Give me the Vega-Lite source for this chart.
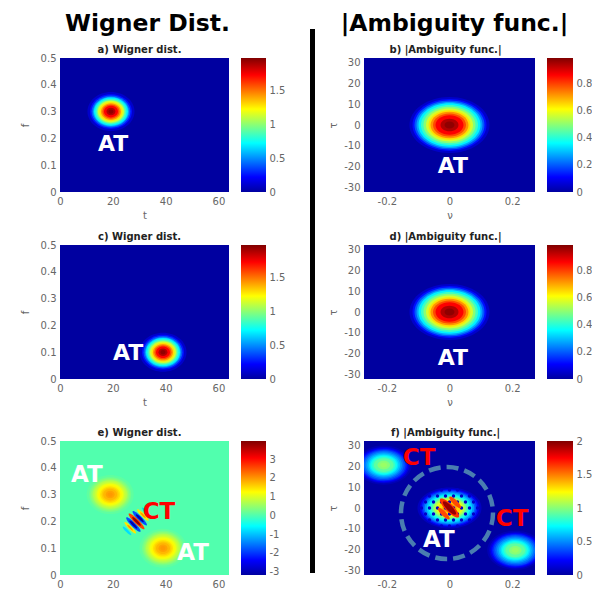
{
  "$schema": "https://vega.github.io/schema/vega-lite/v6.json",
  "background": "white",
  "padding": {"left": 20, "top": 12, "right": 0, "bottom": 0},
  "bounds": "flush",
  "spacing": 250,
  "resolve": {"scale": {"color": "independent", "size": "independent"}},
  "config": {
    "view": {"stroke": null},
    "font": "DejaVu Sans",
    "axis": {"labelFont": "DejaVu Sans", "labelFontSize": 10, "labelColor": "#666", "ticks": false, "domain": false, "grid": false, "titleFont": "DejaVu Sans", "titleFontSize": 10, "titleFontWeight": "normal", "titleColor": "#666", "labelPadding": 4, "labelOverlap": false, "format": ".2~f", "tickCount": 20},
    "title": {"font": "DejaVu Sans", "fontSize": 10, "fontWeight": "bold", "color": "#222", "offset": 3}
  },
  "hconcat": [
    {
      "bounds": "flush",
      "spacing": 10,
      "resolve": {"scale": {"color": "independent", "size": "independent"}},
      "vconcat": [
        {
          "width": 169, "height": 19,
          "data": {"values": [{"label": "Wigner Dist."}]},
          "mark": {"type": "text", "font": "DejaVu Sans", "fontWeight": "bold", "fontSize": 23.5, "color": "black", "baseline": "alphabetic", "dx": 3, "dy": -7.5},
          "encoding": {"text": {"field": "label"}}
        },
        {
          "bounds": "flush",
          "spacing": 383,
          "resolve": {"scale": {"color": "independent", "size": "independent"}},
          "vconcat": [
            {
              "bounds": "flush",
              "spacing": 187,
              "resolve": {"scale": {"color": "independent", "size": "independent"}},
              "vconcat": [
                {
                  "bounds": "flush", "spacing": 12,
                  "resolve": {"scale": {"color": "independent", "size": "independent"}},
                  "hconcat": [
                    {
                      "width": 169, "height": 134,
                      "title": {"text": "a) Wigner dist.", "dx": -5, "offset": -2},
                      "layer": [
                        {
                          "data": {"values": [{"v": 0}]},
                          "mark": {"type": "rect"},
                          "encoding": {"color": {"field": "v", "type": "quantitative", "legend": null, "scale": {"domain": [0, 0.221, 0.726, 1.232, 1.737, 1.99], "range": ["#0000A0", "#0000FF", "#00FFFF", "#FFFF00", "#FF0000", "#800000"], "interpolate": "rgb"}}}
                        },
                        {
                          "data": {"values": [
                            {"t": 19.3, "f": 0.3, "r": 8.90, "v": 0.10}, {"t": 19.3, "f": 0.3, "r": 7.95, "v": 0.25}, {"t": 19.3, "f": 0.3, "r": 7.38, "v": 0.40}, {"t": 19.3, "f": 0.3, "r": 6.82, "v": 0.55}, {"t": 19.3, "f": 0.3, "r": 6.44, "v": 0.70}, {"t": 19.3, "f": 0.3, "r": 5.87, "v": 0.85}, {"t": 19.3, "f": 0.3, "r": 5.30, "v": 0.99}, {"t": 19.3, "f": 0.3, "r": 4.92, "v": 1.14}, {"t": 19.3, "f": 0.3, "r": 4.36, "v": 1.29}, {"t": 19.3, "f": 0.3, "r": 3.79, "v": 1.44}, {"t": 19.3, "f": 0.3, "r": 3.22, "v": 1.59}, {"t": 19.3, "f": 0.3, "r": 2.65, "v": 1.74}, {"t": 19.3, "f": 0.3, "r": 1.70, "v": 1.89}, {"t": 19.3, "f": 0.3, "r": 0.95, "v": 1.96}
                          ]},
                          "mark": {"type": "point", "shape": "M1,0C1,0.4584,0.5523,0.83,0,0.83C-0.5523,0.83,-1,0.4584,-1,0C-1,-0.4584,-0.5523,-0.83,0,-0.83C0.5523,-0.83,1,-0.4584,1,0Z", "filled": true, "opacity": 1, "strokeWidth": 0, "clip": true},
                          "encoding": {
                            "x": {"field": "t", "type": "quantitative", "scale": {"domain": [0, 64], "nice": false, "zero": false}, "axis": {"values": [0, 20, 40, 60], "title": "t", "labelFlush": false, "labelOverlap": false, "tickCount": 20}},
                            "y": {"field": "f", "type": "quantitative", "scale": {"domain": [0, 0.5], "nice": false, "zero": false}, "axis": {"values": [0, 0.1, 0.2, 0.3, 0.4, 0.5], "title": "f", "titlePadding": 10, "labelOverlap": false, "tickCount": 20}},
                            "size": {"field": "r", "type": "quantitative", "legend": null, "scale": {"type": "pow", "exponent": 2, "domain": [0, 16], "range": [0, 7140], "zero": true}},
                            "color": {"field": "v", "type": "quantitative", "legend": null}
                          }
                        },
                        {
                          "data": {"values": [{"t": 20.1, "f": 0.179, "label": "AT"}]},
                          "mark": {"type": "text", "color": "white", "font": "DejaVu Sans", "fontWeight": "bold", "fontSize": 22},
                          "encoding": {"x": {"field": "t", "type": "quantitative"}, "y": {"field": "f", "type": "quantitative"}, "text": {"field": "label"}}
                        }
                      ]
                    },
                    {
                      "width": 25, "height": 134,
                      "data": {"values": [{"lo": 0, "hi": 1.99}]},
                      "mark": {"type": "rect", "color": {"gradient": "linear", "x1": 0, "y1": 1, "x2": 0, "y2": 0, "stops": [{"offset": 0, "color": "#0000A0"}, {"offset": 0.111, "color": "#0000FF"}, {"offset": 0.365, "color": "#00FFFF"}, {"offset": 0.619, "color": "#FFFF00"}, {"offset": 0.873, "color": "#FF0000"}, {"offset": 1, "color": "#800000"}]}},
                      "encoding": {
                        "y": {"field": "lo", "type": "quantitative", "scale": {"domain": [0, 1.99], "nice": false, "zero": false}, "axis": {"orient": "right", "values": [0, 0.5, 1, 1.5], "title": null, "labelPadding": 3, "labelOverlap": false, "tickCount": 20}},
                        "y2": {"field": "hi"}
                      }
                    }
                  ]
                },
                {
                  "bounds": "flush", "spacing": 12,
                  "resolve": {"scale": {"color": "independent", "size": "independent"}},
                  "hconcat": [
                    {
                      "width": 169, "height": 134,
                      "title": {"text": "c) Wigner dist.", "dx": -5, "offset": -2},
                      "layer": [
                        {
                          "data": {"values": [{"v": 0}]},
                          "mark": {"type": "rect"},
                          "encoding": {"color": {"field": "v", "type": "quantitative", "legend": null, "scale": {"domain": [0, 0.221, 0.726, 1.232, 1.737, 1.99], "range": ["#0000A0", "#0000FF", "#00FFFF", "#FFFF00", "#FF0000", "#800000"], "interpolate": "rgb"}}}
                        },
                        {
                          "data": {"values": [
                            {"t": 39, "f": 0.1, "r": 8.90, "v": 0.10}, {"t": 39, "f": 0.1, "r": 7.95, "v": 0.25}, {"t": 39, "f": 0.1, "r": 7.38, "v": 0.40}, {"t": 39, "f": 0.1, "r": 6.82, "v": 0.55}, {"t": 39, "f": 0.1, "r": 6.44, "v": 0.70}, {"t": 39, "f": 0.1, "r": 5.87, "v": 0.85}, {"t": 39, "f": 0.1, "r": 5.30, "v": 0.99}, {"t": 39, "f": 0.1, "r": 4.92, "v": 1.14}, {"t": 39, "f": 0.1, "r": 4.36, "v": 1.29}, {"t": 39, "f": 0.1, "r": 3.79, "v": 1.44}, {"t": 39, "f": 0.1, "r": 3.22, "v": 1.59}, {"t": 39, "f": 0.1, "r": 2.65, "v": 1.74}, {"t": 39, "f": 0.1, "r": 1.70, "v": 1.89}, {"t": 39, "f": 0.1, "r": 0.95, "v": 1.96}
                          ]},
                          "mark": {"type": "point", "shape": "M1,0C1,0.4584,0.5523,0.83,0,0.83C-0.5523,0.83,-1,0.4584,-1,0C-1,-0.4584,-0.5523,-0.83,0,-0.83C0.5523,-0.83,1,-0.4584,1,0Z", "filled": true, "opacity": 1, "strokeWidth": 0, "clip": true},
                          "encoding": {
                            "x": {"field": "t", "type": "quantitative", "scale": {"domain": [0, 64], "nice": false, "zero": false}, "axis": {"values": [0, 20, 40, 60], "title": "t", "labelFlush": false, "labelOverlap": false, "tickCount": 20}},
                            "y": {"field": "f", "type": "quantitative", "scale": {"domain": [0, 0.5], "nice": false, "zero": false}, "axis": {"values": [0, 0.1, 0.2, 0.3, 0.4, 0.5], "title": "f", "titlePadding": 10, "labelOverlap": false, "tickCount": 20}},
                            "size": {"field": "r", "type": "quantitative", "legend": null, "scale": {"type": "pow", "exponent": 2, "domain": [0, 16], "range": [0, 7140], "zero": true}},
                            "color": {"field": "v", "type": "quantitative", "legend": null}
                          }
                        },
                        {
                          "data": {"values": [{"t": 25.8, "f": 0.097, "label": "AT"}]},
                          "mark": {"type": "text", "color": "white", "font": "DejaVu Sans", "fontWeight": "bold", "fontSize": 22},
                          "encoding": {"x": {"field": "t", "type": "quantitative"}, "y": {"field": "f", "type": "quantitative"}, "text": {"field": "label"}}
                        }
                      ]
                    },
                    {
                      "width": 25, "height": 134,
                      "data": {"values": [{"lo": 0, "hi": 1.99}]},
                      "mark": {"type": "rect", "color": {"gradient": "linear", "x1": 0, "y1": 1, "x2": 0, "y2": 0, "stops": [{"offset": 0, "color": "#0000A0"}, {"offset": 0.111, "color": "#0000FF"}, {"offset": 0.365, "color": "#00FFFF"}, {"offset": 0.619, "color": "#FFFF00"}, {"offset": 0.873, "color": "#FF0000"}, {"offset": 1, "color": "#800000"}]}},
                      "encoding": {
                        "y": {"field": "lo", "type": "quantitative", "scale": {"domain": [0, 1.99], "nice": false, "zero": false}, "axis": {"orient": "right", "values": [0, 0.5, 1, 1.5], "title": null, "labelPadding": 3, "labelOverlap": false, "tickCount": 20}},
                        "y2": {"field": "hi"}
                      }
                    }
                  ]
                }
              ]
            },
            {
              "bounds": "flush", "spacing": 12,
              "resolve": {"scale": {"color": "independent", "size": "independent"}},
              "hconcat": [
                {
                  "width": 169, "height": 134,
                  "title": {"text": "e) Wigner dist.", "dx": -5, "offset": -2},
                  "layer": [
                    {
                      "data": {"values": [{"v": 0}]},
                      "mark": {"type": "rect"},
                      "encoding": {"color": {"field": "v", "type": "quantitative", "legend": null, "scale": {"domain": [-3.18, -2.387, -0.574, 1.24, 3.053, 3.96], "range": ["#0000A0", "#0000FF", "#00FFFF", "#FFFF00", "#FF0000", "#800000"], "interpolate": "rgb"}}}
                    },
                    {
                      "data": {"values": [
                        {"t": 19, "f": 0.3, "r": 8.90, "v": 0.10}, {"t": 19, "f": 0.3, "r": 7.95, "v": 0.25}, {"t": 19, "f": 0.3, "r": 7.38, "v": 0.40}, {"t": 19, "f": 0.3, "r": 6.82, "v": 0.55}, {"t": 19, "f": 0.3, "r": 6.44, "v": 0.70}, {"t": 19, "f": 0.3, "r": 5.87, "v": 0.85}, {"t": 19, "f": 0.3, "r": 5.30, "v": 1.00}, {"t": 19, "f": 0.3, "r": 4.92, "v": 1.15}, {"t": 19, "f": 0.3, "r": 4.36, "v": 1.30}, {"t": 19, "f": 0.3, "r": 3.79, "v": 1.45}, {"t": 19, "f": 0.3, "r": 3.22, "v": 1.60}, {"t": 19, "f": 0.3, "r": 2.65, "v": 1.75}, {"t": 19, "f": 0.3, "r": 1.70, "v": 1.90}, {"t": 19, "f": 0.3, "r": 0.95, "v": 1.97},
                        {"t": 39, "f": 0.1, "r": 8.90, "v": 0.10}, {"t": 39, "f": 0.1, "r": 7.95, "v": 0.25}, {"t": 39, "f": 0.1, "r": 7.38, "v": 0.40}, {"t": 39, "f": 0.1, "r": 6.82, "v": 0.55}, {"t": 39, "f": 0.1, "r": 6.44, "v": 0.70}, {"t": 39, "f": 0.1, "r": 5.87, "v": 0.85}, {"t": 39, "f": 0.1, "r": 5.30, "v": 1.00}, {"t": 39, "f": 0.1, "r": 4.92, "v": 1.15}, {"t": 39, "f": 0.1, "r": 4.36, "v": 1.30}, {"t": 39, "f": 0.1, "r": 3.79, "v": 1.45}, {"t": 39, "f": 0.1, "r": 3.22, "v": 1.60}, {"t": 39, "f": 0.1, "r": 2.65, "v": 1.75}, {"t": 39, "f": 0.1, "r": 1.70, "v": 1.90}, {"t": 39, "f": 0.1, "r": 0.95, "v": 1.97}
                      ]},
                      "mark": {"type": "point", "shape": "M1,0C1,0.4584,0.5523,0.83,0,0.83C-0.5523,0.83,-1,0.4584,-1,0C-1,-0.4584,-0.5523,-0.83,0,-0.83C0.5523,-0.83,1,-0.4584,1,0Z", "filled": true, "opacity": 1, "strokeWidth": 0, "clip": true},
                      "encoding": {
                        "x": {"field": "t", "type": "quantitative", "scale": {"domain": [0, 64], "nice": false, "zero": false}, "axis": {"values": [0, 20, 40, 60], "title": null, "labelFlush": false, "labelOverlap": false, "tickCount": 20}},
                        "y": {"field": "f", "type": "quantitative", "scale": {"domain": [0, 0.5], "nice": false, "zero": false}, "axis": {"values": [0, 0.1, 0.2, 0.3, 0.4, 0.5], "title": "f", "titlePadding": 10, "labelOverlap": false, "tickCount": 20}},
                        "size": {"field": "r", "type": "quantitative", "legend": null, "scale": {"type": "pow", "exponent": 2, "domain": [0, 16], "range": [0, 7140], "zero": true}},
                        "color": {"field": "v", "type": "quantitative", "legend": null}
                      }
                    },
                    {
                      "data": {"values": [
                        {"t": 25.39, "f": 0.1644, "r": 2.27, "v": -0.8}, {"t": 32.62, "f": 0.2356, "r": 2.27, "v": -0.8},
                        {"t": 26.59, "f": 0.1763, "r": 3.03, "v": 1.4}, {"t": 31.41, "f": 0.2237, "r": 3.03, "v": 1.4},
                        {"t": 27.8, "f": 0.1881, "r": 3.79, "v": -1.8}, {"t": 30.21, "f": 0.2119, "r": 3.79, "v": -1.8},
                        {"t": 29, "f": 0.2, "r": 4.17, "v": 2.6},
                        {"t": 26.59, "f": 0.1763, "r": 1.51, "v": 2.0}, {"t": 31.41, "f": 0.2237, "r": 1.51, "v": 2.0},
                        {"t": 27.8, "f": 0.1881, "r": 2.08, "v": -3.1}, {"t": 30.21, "f": 0.2119, "r": 2.08, "v": -3.1},
                        {"t": 29, "f": 0.2, "r": 2.27, "v": 3.8}
                      ]},
                      "mark": {"type": "point", "shape": "M1,0C1,0.1215,0.5523,0.22,0,0.22C-0.5523,0.22,-1,0.1215,-1,0C-1,-0.1215,-0.5523,-0.22,0,-0.22C0.5523,-0.22,1,-0.1215,1,0Z", "angle": 45, "filled": true, "opacity": 1, "strokeWidth": 0, "clip": true},
                      "encoding": {
                        "x": {"field": "t", "type": "quantitative"},
                        "y": {"field": "f", "type": "quantitative"},
                        "size": {"field": "r", "type": "quantitative", "legend": null},
                        "color": {"field": "v", "type": "quantitative", "legend": null}
                      }
                    },
                    {
                      "data": {"values": [{"t": 10.2, "f": 0.373, "label": "AT"}, {"t": 50.4, "f": 0.082, "label": "AT"}]},
                      "mark": {"type": "text", "color": "white", "font": "DejaVu Sans", "fontWeight": "bold", "fontSize": 23},
                      "encoding": {"x": {"field": "t", "type": "quantitative"}, "y": {"field": "f", "type": "quantitative"}, "text": {"field": "label"}}
                    },
                    {
                      "data": {"values": [{"t": 37.5, "f": 0.235, "label": "CT"}]},
                      "mark": {"type": "text", "color": "#FF0000", "font": "DejaVu Sans", "fontWeight": "bold", "fontSize": 23},
                      "encoding": {"x": {"field": "t", "type": "quantitative"}, "y": {"field": "f", "type": "quantitative"}, "text": {"field": "label"}}
                    }
                  ]
                },
                {
                  "width": 25, "height": 134,
                  "data": {"values": [{"lo": -3.18, "hi": 3.96}]},
                  "mark": {"type": "rect", "color": {"gradient": "linear", "x1": 0, "y1": 1, "x2": 0, "y2": 0, "stops": [{"offset": 0, "color": "#0000A0"}, {"offset": 0.111, "color": "#0000FF"}, {"offset": 0.365, "color": "#00FFFF"}, {"offset": 0.619, "color": "#FFFF00"}, {"offset": 0.873, "color": "#FF0000"}, {"offset": 1, "color": "#800000"}]}},
                  "encoding": {
                    "y": {"field": "lo", "type": "quantitative", "scale": {"domain": [-3.18, 3.96], "nice": false, "zero": false}, "axis": {"orient": "right", "values": [-3, -2, -1, 0, 1, 2, 3], "title": null, "labelPadding": 3, "labelOverlap": false, "tickCount": 20, "labelExpr": "replace(datum.label, '−', '-')"}},
                    "y2": {"field": "hi"}
                  }
                }
              ]
            }
          ]
        }
      ]
    },
    {
      "bounds": "flush",
      "spacing": 49,
      "resolve": {"scale": {"color": "independent", "size": "independent"}},
      "hconcat": [
        {
          "width": 5, "height": 544,
          "data": {"values": [{"v": 1}]},
          "mark": {"type": "rect", "color": "black"},
          "encoding": {}
        },
        {
          "bounds": "flush",
          "spacing": 10,
          "resolve": {"scale": {"color": "independent", "size": "independent"}},
          "vconcat": [
            {
              "width": 171, "height": 19,
              "data": {"values": [{"label": "|Ambiguity func.|"}]},
              "mark": {"type": "text", "font": "DejaVu Sans", "fontWeight": "bold", "fontSize": 23.5, "color": "black", "baseline": "alphabetic", "dx": 5, "dy": -7.5},
              "encoding": {"text": {"field": "label"}}
            },
            {
              "bounds": "flush",
              "spacing": 383,
              "resolve": {"scale": {"color": "independent", "size": "independent"}},
              "vconcat": [
                {
                  "bounds": "flush",
                  "spacing": 187,
                  "resolve": {"scale": {"color": "independent", "size": "independent"}},
                  "vconcat": [
                    {
                      "bounds": "flush", "spacing": 12,
                      "resolve": {"scale": {"color": "independent", "size": "independent"}},
                      "hconcat": [
                        {
                          "width": 171, "height": 134,
                          "title": {"text": "b) |Ambiguity func.|", "dx": -4, "offset": 2},
                          "layer": [
                            {
                              "data": {"values": [{"v": 0}]},
                              "mark": {"type": "rect"},
                              "encoding": {"color": {"field": "v", "type": "quantitative", "legend": null, "scale": {"domain": [0, 0.11, 0.361, 0.613, 0.864, 0.99], "range": ["#0000A0", "#0000FF", "#00FFFF", "#FFFF00", "#FF0000", "#800000"], "interpolate": "rgb"}}}
                            },
                            {
                              "data": {"values": [
                                {"nu": 0, "tau": 0, "r": 0.1277, "v": 0.05}, {"nu": 0, "tau": 0, "r": 0.1181, "v": 0.124}, {"nu": 0, "tau": 0, "r": 0.1117, "v": 0.198}, {"nu": 0, "tau": 0, "r": 0.1054, "v": 0.272}, {"nu": 0, "tau": 0, "r": 0.099, "v": 0.347}, {"nu": 0, "tau": 0, "r": 0.091, "v": 0.421}, {"nu": 0, "tau": 0, "r": 0.083, "v": 0.495}, {"nu": 0, "tau": 0, "r": 0.075, "v": 0.569}, {"nu": 0, "tau": 0, "r": 0.067, "v": 0.644}, {"nu": 0, "tau": 0, "r": 0.0607, "v": 0.718}, {"nu": 0, "tau": 0, "r": 0.0527, "v": 0.792}, {"nu": 0, "tau": 0, "r": 0.0447, "v": 0.866}, {"nu": 0, "tau": 0, "r": 0.0287, "v": 0.941}, {"nu": 0, "tau": 0, "r": 0.016, "v": 0.975}
                              ]},
                              "mark": {"type": "point", "shape": "M1,0C1,0.3866,0.5523,0.7,0,0.7C-0.5523,0.7,-1,0.3866,-1,0C-1,-0.3866,-0.5523,-0.7,0,-0.7C0.5523,-0.7,1,-0.3866,1,0Z", "filled": true, "opacity": 1, "strokeWidth": 0, "clip": true},
                              "encoding": {
                                "x": {"field": "nu", "type": "quantitative", "scale": {"domain": [-0.273, 0.273], "nice": false, "zero": false}, "axis": {"values": [-0.2, 0, 0.2], "title": "ν", "labelFlush": false, "labelOverlap": false, "tickCount": 20, "labelExpr": "replace(datum.label, '−', '-')"}},
                                "y": {"field": "tau", "type": "quantitative", "scale": {"domain": [-32, 32], "nice": false, "zero": false}, "axis": {"values": [-30, -20, -10, 0, 10, 20, 30], "title": "τ", "titlePadding": 5, "labelOverlap": false, "tickCount": 20, "labelExpr": "replace(datum.label, '−', '-')"}},
                                "size": {"field": "r", "type": "quantitative", "legend": null, "scale": {"type": "pow", "exponent": 2, "domain": [0, 0.3], "range": [0, 35314], "zero": true}},
                                "color": {"field": "v", "type": "quantitative", "legend": null}
                              }
                            },
                            {
                              "data": {"values": [{"nu": 0.011, "tau": -19.6, "label": "AT"}]},
                              "mark": {"type": "text", "color": "white", "font": "DejaVu Sans", "fontWeight": "bold", "fontSize": 22},
                              "encoding": {"x": {"field": "nu", "type": "quantitative"}, "y": {"field": "tau", "type": "quantitative"}, "text": {"field": "label"}}
                            }
                          ]
                        },
                        {
                          "width": 26, "height": 134,
                          "data": {"values": [{"lo": 0, "hi": 0.99}]},
                          "mark": {"type": "rect", "color": {"gradient": "linear", "x1": 0, "y1": 1, "x2": 0, "y2": 0, "stops": [{"offset": 0, "color": "#0000A0"}, {"offset": 0.111, "color": "#0000FF"}, {"offset": 0.365, "color": "#00FFFF"}, {"offset": 0.619, "color": "#FFFF00"}, {"offset": 0.873, "color": "#FF0000"}, {"offset": 1, "color": "#800000"}]}},
                          "encoding": {
                            "y": {"field": "lo", "type": "quantitative", "scale": {"domain": [0, 0.99], "nice": false, "zero": false}, "axis": {"orient": "right", "values": [0, 0.2, 0.4, 0.6, 0.8], "title": null, "labelPadding": 3, "labelOverlap": false, "tickCount": 20}},
                            "y2": {"field": "hi"}
                          }
                        }
                      ]
                    },
                    {
                      "bounds": "flush", "spacing": 12,
                      "resolve": {"scale": {"color": "independent", "size": "independent"}},
                      "hconcat": [
                        {
                          "width": 171, "height": 134,
                          "title": {"text": "d) |Ambiguity func.|", "dx": -4, "offset": 2},
                          "layer": [
                            {
                              "data": {"values": [{"v": 0}]},
                              "mark": {"type": "rect"},
                              "encoding": {"color": {"field": "v", "type": "quantitative", "legend": null, "scale": {"domain": [0, 0.11, 0.361, 0.613, 0.864, 0.99], "range": ["#0000A0", "#0000FF", "#00FFFF", "#FFFF00", "#FF0000", "#800000"], "interpolate": "rgb"}}}
                            },
                            {
                              "data": {"values": [
                                {"nu": 0, "tau": 0, "r": 0.1277, "v": 0.05}, {"nu": 0, "tau": 0, "r": 0.1181, "v": 0.124}, {"nu": 0, "tau": 0, "r": 0.1117, "v": 0.198}, {"nu": 0, "tau": 0, "r": 0.1054, "v": 0.272}, {"nu": 0, "tau": 0, "r": 0.099, "v": 0.347}, {"nu": 0, "tau": 0, "r": 0.091, "v": 0.421}, {"nu": 0, "tau": 0, "r": 0.083, "v": 0.495}, {"nu": 0, "tau": 0, "r": 0.075, "v": 0.569}, {"nu": 0, "tau": 0, "r": 0.067, "v": 0.644}, {"nu": 0, "tau": 0, "r": 0.0607, "v": 0.718}, {"nu": 0, "tau": 0, "r": 0.0527, "v": 0.792}, {"nu": 0, "tau": 0, "r": 0.0447, "v": 0.866}, {"nu": 0, "tau": 0, "r": 0.0287, "v": 0.941}, {"nu": 0, "tau": 0, "r": 0.016, "v": 0.975}
                              ]},
                              "mark": {"type": "point", "shape": "M1,0C1,0.3866,0.5523,0.7,0,0.7C-0.5523,0.7,-1,0.3866,-1,0C-1,-0.3866,-0.5523,-0.7,0,-0.7C0.5523,-0.7,1,-0.3866,1,0Z", "filled": true, "opacity": 1, "strokeWidth": 0, "clip": true},
                              "encoding": {
                                "x": {"field": "nu", "type": "quantitative", "scale": {"domain": [-0.273, 0.273], "nice": false, "zero": false}, "axis": {"values": [-0.2, 0, 0.2], "title": "ν", "labelFlush": false, "labelOverlap": false, "tickCount": 20, "labelExpr": "replace(datum.label, '−', '-')"}},
                                "y": {"field": "tau", "type": "quantitative", "scale": {"domain": [-32, 32], "nice": false, "zero": false}, "axis": {"values": [-30, -20, -10, 0, 10, 20, 30], "title": "τ", "titlePadding": 5, "labelOverlap": false, "tickCount": 20, "labelExpr": "replace(datum.label, '−', '-')"}},
                                "size": {"field": "r", "type": "quantitative", "legend": null, "scale": {"type": "pow", "exponent": 2, "domain": [0, 0.3], "range": [0, 35314], "zero": true}},
                                "color": {"field": "v", "type": "quantitative", "legend": null}
                              }
                            },
                            {
                              "data": {"values": [{"nu": 0.011, "tau": -22, "label": "AT"}]},
                              "mark": {"type": "text", "color": "white", "font": "DejaVu Sans", "fontWeight": "bold", "fontSize": 22},
                              "encoding": {"x": {"field": "nu", "type": "quantitative"}, "y": {"field": "tau", "type": "quantitative"}, "text": {"field": "label"}}
                            }
                          ]
                        },
                        {
                          "width": 26, "height": 134,
                          "data": {"values": [{"lo": 0, "hi": 0.99}]},
                          "mark": {"type": "rect", "color": {"gradient": "linear", "x1": 0, "y1": 1, "x2": 0, "y2": 0, "stops": [{"offset": 0, "color": "#0000A0"}, {"offset": 0.111, "color": "#0000FF"}, {"offset": 0.365, "color": "#00FFFF"}, {"offset": 0.619, "color": "#FFFF00"}, {"offset": 0.873, "color": "#FF0000"}, {"offset": 1, "color": "#800000"}]}},
                          "encoding": {
                            "y": {"field": "lo", "type": "quantitative", "scale": {"domain": [0, 0.99], "nice": false, "zero": false}, "axis": {"orient": "right", "values": [0, 0.2, 0.4, 0.6, 0.8], "title": null, "labelPadding": 3, "labelOverlap": false, "tickCount": 20}},
                            "y2": {"field": "hi"}
                          }
                        }
                      ]
                    }
                  ]
                },
                {
                  "bounds": "flush", "spacing": 12,
                  "resolve": {"scale": {"color": "independent", "size": "independent"}},
                  "hconcat": [
                    {
                      "width": 171, "height": 134,
                      "title": {"text": "f) |Ambiguity func.|", "dx": -4, "offset": 2},
                      "layer": [
                        {
                          "data": {"values": [{"v": 0}]},
                          "mark": {"type": "rect"},
                          "encoding": {"color": {"field": "v", "type": "quantitative", "legend": null, "scale": {"domain": [0, 0.222, 0.73, 1.238, 1.746, 2], "range": ["#0000A0", "#0000FF", "#00FFFF", "#FFFF00", "#FF0000", "#800000"], "interpolate": "rgb"}}}
                        },
                        {
                          "data": {"values": [
                            {"nu": -0.21, "tau": 20.5, "r": 0.0894, "v": 0.0525}, {"nu": -0.21, "tau": 20.5, "r": 0.0827, "v": 0.131}, {"nu": -0.21, "tau": 20.5, "r": 0.0782, "v": 0.21}, {"nu": -0.21, "tau": 20.5, "r": 0.0738, "v": 0.289}, {"nu": -0.21, "tau": 20.5, "r": 0.0693, "v": 0.368}, {"nu": -0.21, "tau": 20.5, "r": 0.0637, "v": 0.446}, {"nu": -0.21, "tau": 20.5, "r": 0.0581, "v": 0.525}, {"nu": -0.21, "tau": 20.5, "r": 0.0525, "v": 0.604}, {"nu": -0.21, "tau": 20.5, "r": 0.0469, "v": 0.683}, {"nu": -0.21, "tau": 20.5, "r": 0.0425, "v": 0.761}, {"nu": -0.21, "tau": 20.5, "r": 0.0369, "v": 0.84}, {"nu": -0.21, "tau": 20.5, "r": 0.0313, "v": 0.919}, {"nu": -0.21, "tau": 20.5, "r": 0.0201, "v": 0.998}, {"nu": -0.21, "tau": 20.5, "r": 0.0112, "v": 1.034},
                            {"nu": 0.21, "tau": -20.2, "r": 0.0894, "v": 0.0525}, {"nu": 0.21, "tau": -20.2, "r": 0.0827, "v": 0.131}, {"nu": 0.21, "tau": -20.2, "r": 0.0782, "v": 0.21}, {"nu": 0.21, "tau": -20.2, "r": 0.0738, "v": 0.289}, {"nu": 0.21, "tau": -20.2, "r": 0.0693, "v": 0.368}, {"nu": 0.21, "tau": -20.2, "r": 0.0637, "v": 0.446}, {"nu": 0.21, "tau": -20.2, "r": 0.0581, "v": 0.525}, {"nu": 0.21, "tau": -20.2, "r": 0.0525, "v": 0.604}, {"nu": 0.21, "tau": -20.2, "r": 0.0469, "v": 0.683}, {"nu": 0.21, "tau": -20.2, "r": 0.0425, "v": 0.761}, {"nu": 0.21, "tau": -20.2, "r": 0.0369, "v": 0.84}, {"nu": 0.21, "tau": -20.2, "r": 0.0313, "v": 0.919}, {"nu": 0.21, "tau": -20.2, "r": 0.0201, "v": 0.998}, {"nu": 0.21, "tau": -20.2, "r": 0.0112, "v": 1.034}
                          ]},
                          "mark": {"type": "point", "shape": "M1,0C1,0.3866,0.5523,0.7,0,0.7C-0.5523,0.7,-1,0.3866,-1,0C-1,-0.3866,-0.5523,-0.7,0,-0.7C0.5523,-0.7,1,-0.3866,1,0Z", "filled": true, "opacity": 1, "strokeWidth": 0, "clip": true},
                          "encoding": {
                            "x": {"field": "nu", "type": "quantitative", "scale": {"domain": [-0.273, 0.273], "nice": false, "zero": false}, "axis": {"values": [-0.2, 0, 0.2], "title": null, "labelFlush": false, "labelOverlap": false, "tickCount": 20, "labelExpr": "replace(datum.label, '−', '-')"}},
                            "y": {"field": "tau", "type": "quantitative", "scale": {"domain": [-32, 32], "nice": false, "zero": false}, "axis": {"values": [-30, -20, -10, 0, 10, 20, 30], "title": "τ", "titlePadding": 5, "labelOverlap": false, "tickCount": 20, "labelExpr": "replace(datum.label, '−', '-')"}},
                            "size": {"field": "r", "type": "quantitative", "legend": null, "scale": {"type": "pow", "exponent": 2, "domain": [0, 0.3], "range": [0, 35314], "zero": true}},
                            "color": {"field": "v", "type": "quantitative", "legend": null}
                          }
                        },
                        {
                          "data": {"values": [
                            {"nu": 0, "tau": 0, "r": 0.1022, "v": 0.075}, {"nu": 0, "tau": 0, "r": 0.0945, "v": 0.19}, {"nu": 0, "tau": 0, "r": 0.0894, "v": 0.3}, {"nu": 0, "tau": 0, "r": 0.0843, "v": 0.41}, {"nu": 0, "tau": 0, "r": 0.0792, "v": 0.53}, {"nu": 0, "tau": 0, "r": 0.0728, "v": 0.64}, {"nu": 0, "tau": 0, "r": 0.0664, "v": 0.75}, {"nu": 0, "tau": 0, "r": 0.06, "v": 0.86}, {"nu": 0, "tau": 0, "r": 0.0536, "v": 0.98}, {"nu": 0, "tau": 0, "r": 0.0485, "v": 1.09}, {"nu": 0, "tau": 0, "r": 0.0421, "v": 1.2}, {"nu": 0, "tau": 0, "r": 0.0358, "v": 1.31}, {"nu": 0, "tau": 0, "r": 0.023, "v": 1.43}, {"nu": 0, "tau": 0, "r": 0.0128, "v": 1.48}
                          ]},
                          "mark": {"type": "point", "shape": "M1,0C1,0.3535,0.5523,0.64,0,0.64C-0.5523,0.64,-1,0.3535,-1,0C-1,-0.3535,-0.5523,-0.64,0,-0.64C0.5523,-0.64,1,-0.3535,1,0Z", "filled": true, "opacity": 1, "strokeWidth": 0, "clip": true},
                          "encoding": {
                            "x": {"field": "nu", "type": "quantitative"},
                            "y": {"field": "tau", "type": "quantitative"},
                            "size": {"field": "r", "type": "quantitative", "legend": null},
                            "color": {"field": "v", "type": "quantitative", "legend": null}
                          }
                        },
                        {
                          "data": {"values": [
                            {"nu": -0.0128, "tau": 0, "v": 0.1}, {"nu": 0.0128, "tau": 0, "v": 0.1}, {"nu": -0.0383, "tau": 0, "v": 0.1}, {"nu": 0.0383, "tau": 0, "v": 0.1}, {"nu": -0.0639, "tau": 0, "v": 0.1}, {"nu": 0.0639, "tau": 0, "v": 0.1}, {"nu": -0.0894, "tau": 0, "v": 0.1}, {"nu": 0.0894, "tau": 0, "v": 0.1},
                            {"nu": 0, "tau": 2.87, "v": 0.1}, {"nu": -0.0255, "tau": 2.87, "v": 0.1}, {"nu": 0.0255, "tau": 2.87, "v": 0.1}, {"nu": -0.0511, "tau": 2.87, "v": 0.1}, {"nu": 0.0511, "tau": 2.87, "v": 0.1}, {"nu": -0.0766, "tau": 2.87, "v": 0.1}, {"nu": 0.0766, "tau": 2.87, "v": 0.1},
                            {"nu": 0, "tau": -2.87, "v": 0.1}, {"nu": -0.0255, "tau": -2.87, "v": 0.1}, {"nu": 0.0255, "tau": -2.87, "v": 0.1}, {"nu": -0.0511, "tau": -2.87, "v": 0.1}, {"nu": 0.0511, "tau": -2.87, "v": 0.1}, {"nu": -0.0766, "tau": -2.87, "v": 0.1}, {"nu": 0.0766, "tau": -2.87, "v": 0.1},
                            {"nu": -0.0128, "tau": 5.73, "v": 0.1}, {"nu": 0.0128, "tau": 5.73, "v": 0.1}, {"nu": -0.0383, "tau": 5.73, "v": 0.1}, {"nu": 0.0383, "tau": 5.73, "v": 0.1}, {"nu": -0.0639, "tau": 5.73, "v": 0.1}, {"nu": 0.0639, "tau": 5.73, "v": 0.1},
                            {"nu": -0.0128, "tau": -5.73, "v": 0.1}, {"nu": 0.0128, "tau": -5.73, "v": 0.1}, {"nu": -0.0383, "tau": -5.73, "v": 0.1}, {"nu": 0.0383, "tau": -5.73, "v": 0.1}, {"nu": -0.0639, "tau": -5.73, "v": 0.1}, {"nu": 0.0639, "tau": -5.73, "v": 0.1},
                            {"nu": 0, "tau": 8.6, "v": 0.1}, {"nu": -0.0255, "tau": 8.6, "v": 0.1}, {"nu": 0.0255, "tau": 8.6, "v": 0.1},
                            {"nu": 0, "tau": -8.6, "v": 0.1}, {"nu": -0.0255, "tau": -8.6, "v": 0.1}, {"nu": 0.0255, "tau": -8.6, "v": 0.1}
                          ]},
                          "mark": {"type": "point", "shape": "circle", "filled": true, "opacity": 1, "strokeWidth": 0, "size": 12, "clip": true},
                          "encoding": {
                            "x": {"field": "nu", "type": "quantitative"},
                            "y": {"field": "tau", "type": "quantitative"},
                            "color": {"field": "v", "type": "quantitative", "legend": null}
                          }
                        },
                        {
                          "data": {"values": [
                            {"nu": 0, "tau": 0, "r": 0.0415, "v": 1.65},
                            {"nu": 0.0181, "tau": 2.7, "r": 0.0255, "v": 1.6},
                            {"nu": -0.0181, "tau": -2.7, "r": 0.0255, "v": 1.6},
                            {"nu": 0, "tau": 0, "r": 0.0287, "v": 1.95}
                          ]},
                          "mark": {"type": "point", "shape": "M1,0C1,0.1657,0.5523,0.3,0,0.3C-0.5523,0.3,-1,0.1657,-1,0C-1,-0.1657,-0.5523,-0.3,0,-0.3C0.5523,-0.3,1,-0.1657,1,0Z", "angle": 45, "filled": true, "opacity": 1, "strokeWidth": 0, "clip": true},
                          "encoding": {
                            "x": {"field": "nu", "type": "quantitative"},
                            "y": {"field": "tau", "type": "quantitative"},
                            "size": {"field": "r", "type": "quantitative", "legend": null},
                            "color": {"field": "v", "type": "quantitative", "legend": null}
                          }
                        },
                        {
                          "data": {"values": [{"nu": -0.008, "tau": -2.4}]},
                          "mark": {"type": "point", "shape": "circle", "filled": false, "size": 8464, "color": "#4A7DB0", "strokeWidth": 4.5, "strokeDash": [12, 6], "opacity": 1},
                          "encoding": {"x": {"field": "nu", "type": "quantitative"}, "y": {"field": "tau", "type": "quantitative"}}
                        },
                        {
                          "data": {"values": [{"nu": -0.097, "tau": 23.9, "label": "CT"}, {"nu": 0.2, "tau": -5.3, "label": "CT"}]},
                          "mark": {"type": "text", "color": "#FF0000", "font": "DejaVu Sans", "fontWeight": "bold", "fontSize": 23},
                          "encoding": {"x": {"field": "nu", "type": "quantitative"}, "y": {"field": "tau", "type": "quantitative"}, "text": {"field": "label"}}
                        },
                        {
                          "data": {"values": [{"nu": -0.034, "tau": -15.3, "label": "AT"}]},
                          "mark": {"type": "text", "color": "white", "font": "DejaVu Sans", "fontWeight": "bold", "fontSize": 23},
                          "encoding": {"x": {"field": "nu", "type": "quantitative"}, "y": {"field": "tau", "type": "quantitative"}, "text": {"field": "label"}}
                        }
                      ]
                    },
                    {
                      "width": 26, "height": 134,
                      "data": {"values": [{"lo": 0, "hi": 2}]},
                      "mark": {"type": "rect", "color": {"gradient": "linear", "x1": 0, "y1": 1, "x2": 0, "y2": 0, "stops": [{"offset": 0, "color": "#0000A0"}, {"offset": 0.111, "color": "#0000FF"}, {"offset": 0.365, "color": "#00FFFF"}, {"offset": 0.619, "color": "#FFFF00"}, {"offset": 0.873, "color": "#FF0000"}, {"offset": 1, "color": "#800000"}]}},
                      "encoding": {
                        "y": {"field": "lo", "type": "quantitative", "scale": {"domain": [0, 2], "nice": false, "zero": false}, "axis": {"orient": "right", "values": [0, 0.5, 1, 1.5, 2], "title": null, "labelPadding": 3, "labelOverlap": false, "tickCount": 20}},
                        "y2": {"field": "hi"}
                      }
                    }
                  ]
                }
              ]
            }
          ]
        }
      ]
    }
  ]
}
